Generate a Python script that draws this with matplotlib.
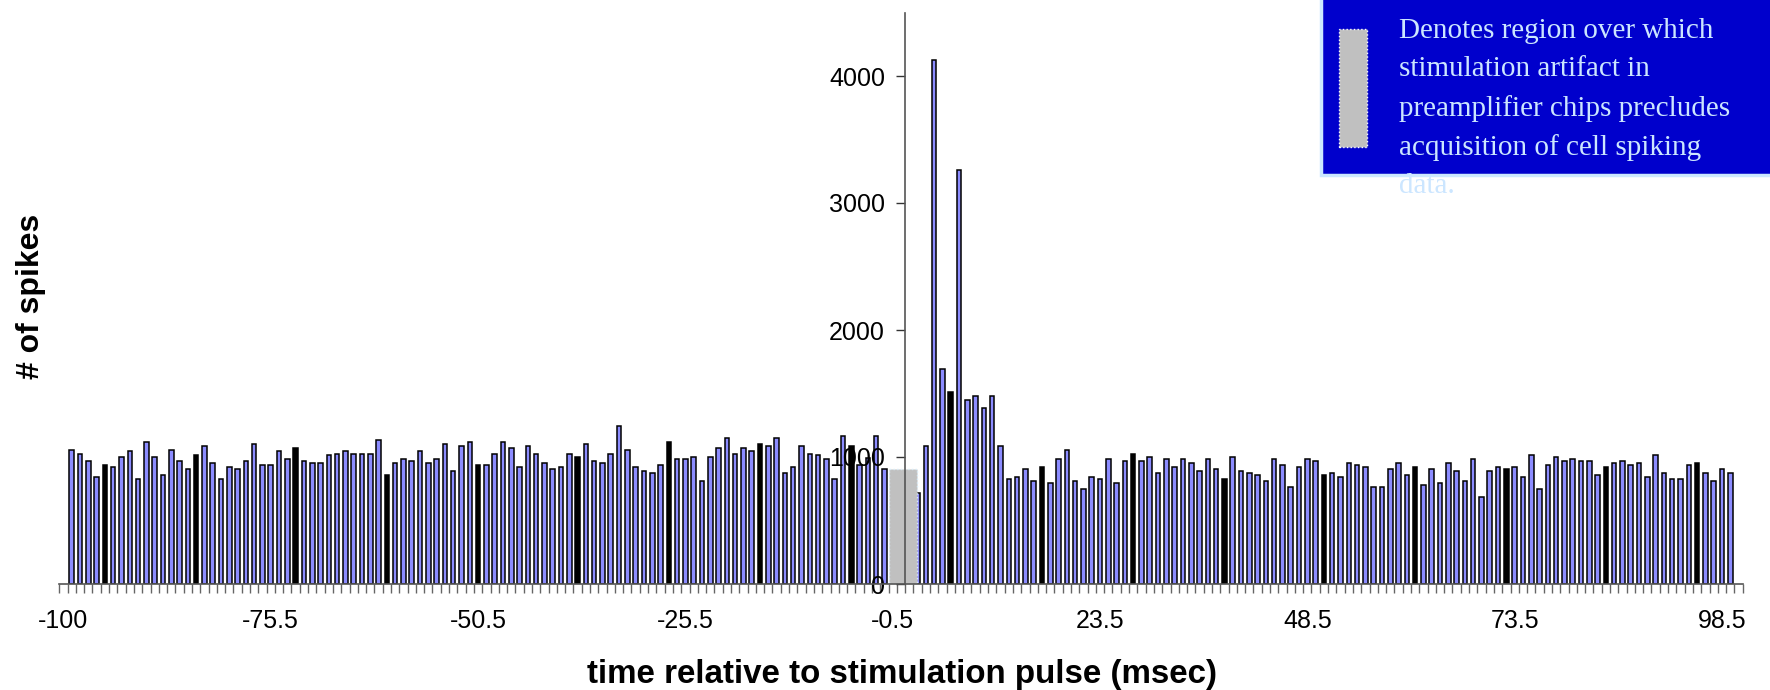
import matplotlib
matplotlib.use("Agg")
import matplotlib.pyplot as plt
import numpy as np
from matplotlib.patches import Rectangle

# category axis: 203 bins, labels every 25th bin
tick_labels = ["-100", "-75.5", "-50.5", "-25.5", "-0.5", "23.5", "48.5", "73.5", "98.5"]
n_bins = 203

# spike counts before the stimulation pulse (bins 1..99)
pre_counts = [1058, 1026, 966, 843, 934, 919, 997, 1045, 827, 1121,
              997, 858, 1058, 966, 903, 1013, 1089, 950, 827, 919,
              903, 966, 1105, 934, 934, 1045, 982, 1073, 966, 950,
              950, 1013, 1026, 1045, 1026, 1026, 1026, 1136, 858, 950,
              982, 966, 1045, 950, 982, 1105,
              890, 1089, 1121, 934, 934, 1026, 1121, 1073, 919, 1089,
              1026, 950, 903, 919, 1026, 997, 1105, 966, 950, 1026,
              1244, 1058, 919, 890, 871, 934, 1121, 982, 982, 997,
              811, 997, 1073, 1152, 1026, 1073, 1045, 1105, 1089, 1152,
              871, 919, 1089, 1026, 1013, 982, 827, 1165,
              1089, 934, 995, 1165, 904]

# spike counts after the artifact window (bins 103..201)
post_counts = [716, 1089, 4126, 1693, 1511, 3260, 1447, 1477, 1383, 1477,
               1089, 827, 843, 903, 811, 919, 795, 982, 1058, 811,
               751, 843, 827, 982, 795, 966, 1026, 966, 997, 871,
               982, 919, 982, 950, 890, 982, 903, 827, 997, 890,
               871,
               858, 811, 982, 934, 766, 919, 982, 966, 858, 871,
               843, 950, 934, 919, 766, 766, 903, 950, 858, 919,
               780, 903, 795, 950, 890, 811, 982, 688, 890, 919,
               903, 919, 843, 1013, 751, 934, 997, 966, 982, 966,
               966, 858, 919, 950, 966, 934, 950, 843, 1013, 871,
               827, 827, 934, 950, 871, 811, 903, 871]

artifact_bins = [100, 101, 102]
artifact_height = 905

# bars that print as solid black in the original
dark_bins = [5, 16, 28, 39, 50, 62, 73, 84, 95, 107, 118, 129, 140, 152, 163, 174, 186, 197]

W, H = 1770, 690
fig = plt.figure(figsize=(W / 100, H / 100), dpi=100)
ax = fig.add_axes([59.3 / W, 106 / H, (1742.7 - 59.3) / W, 571.5 / H])

pre_x = np.arange(1, 1 + len(pre_counts))
post_x = np.arange(103, 103 + len(post_counts))
bar_fill = '#8c8cff'
for xs, ys in [(pre_x, pre_counts), (post_x, post_counts)]:
    faces = ['black' if x in dark_bins else bar_fill for x in xs]
    ax.bar(xs, ys, width=0.55, color=faces, edgecolor='black', linewidth=1.1, zorder=1)

# artifact region
ax.bar(np.mean(artifact_bins) + 0.2, artifact_height, width=len(artifact_bins) + 0.35,
       color='#c0c0c0', edgecolor='#d8ecf8', linestyle=':', linewidth=1, zorder=1.2)

ax.set_xlim(-0.5, n_bins - 0.5)
ax.set_ylim(0, 4500)

for s in ['top', 'right']:
    ax.spines[s].set_visible(False)
ax.spines['left'].set_position(('data', 101.5))
ax.spines['left'].set_color('#555555')
ax.spines['left'].set_linewidth(1.2)
ax.spines['bottom'].set_color('#555555')
ax.spines['bottom'].set_linewidth(1.2)

ax.set_yticks([0, 1000, 2000, 3000, 4000])
ax.set_yticklabels(['0', '1000', '2000', '3000', '4000'])
ax.tick_params(axis='y', direction='out', length=6.5, width=1, color='#333333',
               pad=8, labelsize=18)

ax.set_xticks(np.arange(0, n_bins, 25))
ax.set_xticklabels(tick_labels)
ax.set_xticks(np.arange(-0.5, n_bins, 1), minor=True)
ax.tick_params(axis='x', which='major', length=0, pad=18, labelsize=18)
ax.tick_params(axis='x', which='minor', direction='out', length=6.5, width=1, color='#666666')

for lab in ax.get_xticklabels() + ax.get_yticklabels():
    lab.set_family('Liberation Sans')

fig.text(902 / W, 1 - 674 / H, 'time relative to stimulation pulse (msec)',
         ha='center', va='center', fontsize=23.9, fontweight='bold', family='Liberation Sans')
fig.text(31 / W, 1 - 296 / H, '# of spikes', rotation=90,
         ha='center', va='center', fontsize=23, fontweight='bold', family='Liberation Sans')

# annotation box in the upper right corner
fig.add_artist(Rectangle((1320.7 / W, 1 - 175 / H), 0.3, 0.3, transform=fig.transFigure,
                         facecolor='#0000cc', edgecolor='#cce8ff', linewidth=2.5))
fig.add_artist(Rectangle((1339 / W, 1 - 147 / H), 28 / W, 118 / H, transform=fig.transFigure,
                         facecolor='#c0c0c0', edgecolor='white', linestyle=':', linewidth=1))
fig.text(1399 / W, 1 - 18 / H,
         'Denotes region over which\nstimulation artifact in\npreamplifier chips precludes\n'
         'acquisition of cell spiking\ndata.',
         ha='left', va='top', fontsize=21, color='#cce6ff', family='Liberation Serif',
         linespacing=1.6)

fig.savefig('out.png', dpi=100)
